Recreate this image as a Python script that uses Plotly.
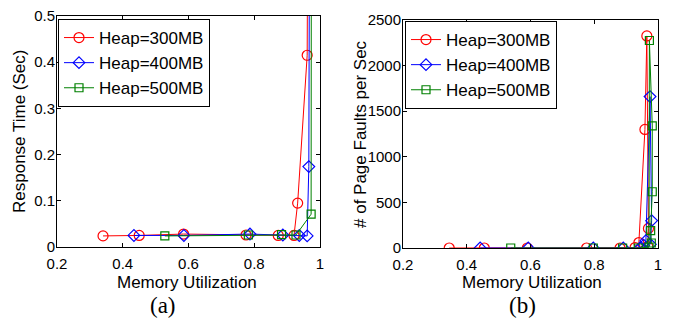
import plotly.graph_objects as go

W, H = 684, 323

# ---------------- data: panel (a) Response Time ----------------
series_names = ["Heap=300MB", "Heap=400MB", "Heap=500MB"]

red_x_a = [0.34, 0.45, 0.585, 0.775, 0.873, 0.921, 0.932, 0.961, 0.970]
red_y_a = [0.024, 0.025, 0.028, 0.026, 0.025, 0.025, 0.095, 0.415, 2.0]
blue_x_a = [0.434, 0.586, 0.787, 0.887, 0.937, 0.961, 0.966, 0.973]
blue_y_a = [0.025, 0.025, 0.028, 0.026, 0.025, 0.024, 0.174, 2.0]
green_x_a = [0.528, 0.782, 0.883, 0.927, 0.973, 0.975]
green_y_a = [0.024, 0.026, 0.027, 0.026, 0.071, 2.0]

# ---------------- data: panel (b) Page Faults ----------------
red_x_b = [0.345, 0.455, 0.59, 0.776, 0.881, 0.928, 0.940, 0.959, 0.965, 0.970, 0.968]
red_y_b = [0, 0, 0, 0, 0, 5, 60, 1300, 2325, 215, 15]
blue_x_b = [0.442, 0.593, 0.797, 0.891, 0.943, 0.955, 0.962, 0.975, 0.980, 0.976]
blue_y_b = [0, 0, 0, 0, 0, 30, 80, 1660, 300, 40]
green_x_b = [0.538, 0.797, 0.889, 0.938, 0.972, 0.973, 0.982, 0.982, 0.977, 0.979]
green_y_b = [0, 0, 0, 0, 10, 2275, 1338, 617, 190, 55]

x_ticks = [0.2, 0.4, 0.6, 0.8, 1.0]
x_tick_text = ["0.2", "0.4", "0.6", "0.8", "1"]
ya_ticks = [0, 0.1, 0.2, 0.3, 0.4, 0.5]
ya_tick_text = ["0", "0.1", "0.2", "0.3", "0.4", "0.5"]
yb_ticks = [0, 500, 1000, 1500, 2000, 2500]
yb_tick_text = ["0", "500", "1000", "1500", "2000", "2500"]

colors = ["#ff0000", "#0000ff", "#008000"]
symbols = ["circle-open", "diamond-open", "square-open"]
msizes = [10, 9, 8]

FONT = "Arial, Liberation Sans, sans-serif"
TXT = "#000000"

fig = go.Figure()

panel_a = [(red_x_a, red_y_a), (blue_x_a, blue_y_a), (green_x_a, green_y_a)]
panel_b = [(red_x_b, red_y_b), (blue_x_b, blue_y_b), (green_x_b, green_y_b)]

for i, (xs, ys) in enumerate(panel_a):
    fig.add_trace(go.Scatter(
        x=xs, y=ys, mode="lines+markers", name=series_names[i],
        line=dict(color=colors[i], width=1),
        marker=dict(symbol=symbols[i], size=msizes[i], color=colors[i],
                    line=dict(width=1.2, color=colors[i])),
        xaxis="x", yaxis="y", legend="legend", legendgroup="a%d" % i,
    ))
for i, (xs, ys) in enumerate(panel_b):
    fig.add_trace(go.Scatter(
        x=xs, y=ys, mode="lines+markers", name=series_names[i],
        line=dict(color=colors[i], width=1),
        marker=dict(symbol=symbols[i], size=msizes[i], color=colors[i],
                    line=dict(width=1.2, color=colors[i])),
        xaxis="x2", yaxis="y2", legend="legend2", legendgroup="b%d" % i,
    ))

axis_common = dict(
    showline=True, linecolor="black", linewidth=1, mirror="ticks",
    ticks="inside", ticklen=4, tickcolor="black", tickwidth=1,
    showgrid=False, zeroline=False, automargin=False,
    tickfont=dict(family=FONT, size=15, color=TXT),
)

a_left, a_right, a_top, a_bot = 57, 320, 16, 247
b_left, b_right, b_top, b_bot = 403, 658, 20, 248

legend_common = dict(
    bgcolor="white", bordercolor="black", borderwidth=1,
    font=dict(family=FONT, size=17, color=TXT),
    xanchor="left", yanchor="top", tracegroupgap=0,
    itemclick=False,
)

fig.update_layout(
    width=W, height=H,
    margin=dict(l=0, r=0, t=0, b=0, autoexpand=False),
    paper_bgcolor="white", plot_bgcolor="white",
    xaxis=dict(domain=[a_left / W, a_right / W], range=[0.2, 1.0],
               tickvals=x_ticks, ticktext=x_tick_text, anchor="y",
               ticklabelstandoff=3, **axis_common),
    yaxis=dict(domain=[(H - a_bot) / H, (H - a_top) / H], range=[0, 0.5],
               tickvals=ya_ticks, ticktext=ya_tick_text, anchor="x",
               ticklabelstandoff=-2, **axis_common),
    xaxis2=dict(domain=[b_left / W, b_right / W], range=[0.2, 1.0],
                tickvals=x_ticks, ticktext=x_tick_text, anchor="y2",
                ticklabelstandoff=3, **axis_common),
    yaxis2=dict(domain=[(H - b_bot) / H, (H - b_top) / H], range=[0, 2500],
                tickvals=yb_ticks, ticktext=yb_tick_text, anchor="x2",
                ticklabelstandoff=-2, **axis_common),
    legend=dict(x=58 / W, y=(H - 19) / H, **legend_common),
    legend2=dict(x=405 / W, y=(H - 21) / H, **legend_common),
    showlegend=True,
)

ann_font = dict(family=FONT, size=17, color=TXT)
annotations = [
    dict(text="Response Time (Sec)", x=20 / W, y=(H - 132) / H, textangle=-90),
    dict(text="Memory Utilization", x=187 / W, y=(H - 282) / H),
    dict(text="# of Page Faults per Sec", x=360 / W, y=(H - 134) / H, textangle=-90),
    dict(text="Memory Utilization", x=532 / W, y=(H - 282) / H),
]
for a in annotations:
    fig.add_annotation(xref="paper", yref="paper", showarrow=False,
                       xanchor="center", yanchor="middle", font=ann_font, **a)
for txt, cx in [("(a)", 163), ("(b)", 522)]:
    fig.add_annotation(xref="paper", yref="paper", showarrow=False,
                       text=txt, x=cx / W, y=(H - 305) / H,
                       xanchor="center", yanchor="middle",
                       font=dict(family="Times New Roman, Liberation Serif, serif",
                                 size=23, color=TXT))

fig.write_html("out.html")
